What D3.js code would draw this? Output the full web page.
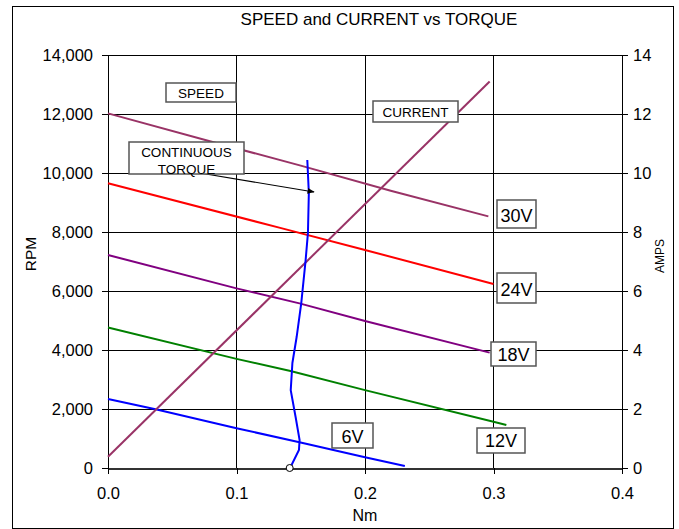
<!DOCTYPE html>
<html>
<head>
<meta charset="utf-8">
<script src="https://cdn.jsdelivr.net/npm/d3@7"></script>
<style>
  body { margin: 0; background: #fff; }
  svg { display: block; font-family: "Liberation Sans", Arial, sans-serif; }
  .box { fill: #fff; stroke: #555; stroke-width: 1.5; }
</style>
</head>
<body>
<svg></svg>
<script>
// speed curves: [torque Nm, RPM]
var speed30 = [[0, 12020], [0.08, 11070], [0.15, 10250], [0.22, 9400], [0.296, 8530]];
var speed24 = [[0, 9650], [0.134, 8140], [0.2, 7390], [0.30, 6240]];
var speed18 = [[0, 7220], [0.10, 6090], [0.149, 5580], [0.2, 4980], [0.297, 3910]];
var speed12 = [[0, 4760], [0.10, 3700], [0.142, 3290], [0.2, 2640], [0.30, 1570], [0.31, 1460]];
var speed6 = [[0, 2340], [0.037, 1990], [0.10, 1350], [0.149, 870], [0.2, 365], [0.231, 70]];

// current: [torque Nm, AMPS]
var current = [[0, 0.38], [0.297, 13.1]];

// continuous torque boundary: [torque Nm, RPM]
var contTorque = [[0.1414, 0], [0.1421, 35], [0.1486, 610], [0.1491, 950], [0.1460, 1730],
  [0.1422, 2640], [0.1435, 3560], [0.1468, 4440], [0.1504, 5590], [0.1538, 7050],
  [0.1556, 7970], [0.1563, 9320], [0.1551, 10440]];

var rpmTicks = [0, 2000, 4000, 6000, 8000, 10000, 12000, 14000];
var ampTicks = [0, 2, 4, 6, 8, 10, 12, 14];
var nmTicks = [0, 0.1, 0.2, 0.3, 0.4];

var speedSeries = [
  { name: "30V", data: speed30, color: "#993366" },
  { name: "24V", data: speed24, color: "#ff0000" },
  { name: "18V", data: speed18, color: "#800080" },
  { name: "12V", data: speed12, color: "#008000" },
  { name: "6V", data: speed6, color: "#0000ff" }
];

var width = 679, height = 529;
var svg = d3.select("svg").attr("width", width).attr("height", height);

var x = d3.scaleLinear().domain([0, 0.4]).range([108, 622]);
var y = d3.scaleLinear().domain([0, 14000]).range([468, 55]);
var yA = d3.scaleLinear().domain([0, 14]).range([468, 55]);

// outer chart border
svg.append("rect")
  .attr("x", 12.5).attr("y", 6.5)
  .attr("width", 661).attr("height", 522)
  .attr("fill", "none").attr("stroke", "#000");

// title
svg.append("text")
  .attr("x", 379).attr("y", 25)
  .attr("text-anchor", "middle")
  .style("font-size", "17px")
  .text("SPEED and CURRENT vs TORQUE");

// grid
var grid = svg.append("g").attr("shape-rendering", "crispEdges").attr("stroke", "#000");
grid.selectAll(".h").data(rpmTicks).enter().append("line")
  .attr("x1", x(0)).attr("x2", x(0.4))
  .attr("y1", function(d) { return y(d); })
  .attr("y2", function(d) { return y(d); });
grid.selectAll(".v").data([0.1, 0.2, 0.3]).enter().append("line")
  .attr("y1", y(0)).attr("y2", y(14000))
  .attr("x1", function(d) { return x(d); })
  .attr("x2", function(d) { return x(d); });

// axes
var axLeft = svg.append("g")
  .attr("transform", "translate(" + x(0) + ",0)")
  .call(d3.axisLeft(y).tickValues(rpmTicks).tickFormat(d3.format(",")).tickSizeOuter(0).tickPadding(9));
var axRight = svg.append("g")
  .attr("transform", "translate(" + x(0.4) + ",0)")
  .call(d3.axisRight(yA).tickValues(ampTicks).tickSizeOuter(0).tickPadding(5));
var axBottom = svg.append("g")
  .attr("transform", "translate(0," + y(0) + ")")
  .call(d3.axisBottom(x).tickValues(nmTicks).tickFormat(d3.format(".1f")).tickSizeOuter(0).tickPadding(13));
axBottom.select(".domain").attr("stroke-width", 2).attr("stroke", "#333");

[axLeft, axRight, axBottom].forEach(function(a) {
  a.selectAll("text").style("font-size", "16.5px").attr("fill", "#000")
    .style("font-family", "'Liberation Sans', Arial, sans-serif");
  a.selectAll("line, path").attr("shape-rendering", "crispEdges");
});

// axis titles
svg.append("text")
  .attr("transform", "translate(36,254) rotate(-90)")
  .attr("text-anchor", "middle")
  .style("font-size", "15.5px")
  .text("RPM");
svg.append("text")
  .attr("transform", "translate(664,256) rotate(-90)")
  .attr("text-anchor", "middle")
  .style("font-size", "12px")
  .text("AMPS");
svg.append("text")
  .attr("x", 365).attr("y", 521)
  .attr("text-anchor", "middle")
  .style("font-size", "16px")
  .text("Nm");

// lines
var lineRpm = d3.line().x(function(d) { return x(d[0]); }).y(function(d) { return y(d[1]); });
var lineAmp = d3.line().x(function(d) { return x(d[0]); }).y(function(d) { return yA(d[1]); });

svg.append("g").selectAll("path")
  .data(speedSeries)
  .enter().append("path")
  .attr("fill", "none")
  .attr("stroke", function(d) { return d.color; })
  .attr("stroke-width", 2)
  .attr("d", function(d) { return lineRpm(d.data); });

svg.append("path")
  .attr("fill", "none")
  .attr("stroke", "#993366")
  .attr("stroke-width", 2)
  .attr("d", lineAmp(current));

svg.append("path")
  .attr("fill", "none")
  .attr("stroke", "#0000ff")
  .attr("stroke-width", 2)
  .attr("d", lineRpm(contTorque));

svg.append("circle")
  .attr("cx", x(contTorque[0][0])).attr("cy", y(contTorque[0][1]))
  .attr("r", 3.5)
  .attr("fill", "#fff").attr("stroke", "#000");

// arrow
svg.append("defs").append("marker")
  .attr("id", "arrow")
  .attr("viewBox", "0 0 10 10")
  .attr("refX", 9).attr("refY", 5)
  .attr("markerWidth", 6).attr("markerHeight", 6)
  .attr("orient", "auto")
  .append("path").attr("d", "M0,1L10,5L0,9Z").attr("fill", "#000");

svg.append("line")
  .attr("x1", 200).attr("y1", 173)
  .attr("x2", 314).attr("y2", 192)
  .attr("stroke", "#000").attr("stroke-width", 1.2)
  .attr("marker-end", "url(#arrow)");

// text boxes
var boxes = [
  { lines: ["SPEED"], x: 166, y: 83, w: 70, h: 19, size: 13.5, base: [14.5] },
  { lines: ["CURRENT"], x: 373, y: 101, w: 85, h: 21, size: 13.5, base: [15.5] },
  { lines: ["CONTINUOUS", "TORQUE"], x: 129, y: 142, w: 115, h: 32, size: 13.5, base: [15, 32] },
  { lines: ["30V"], x: 497, y: 200, w: 39, h: 28, size: 18, base: [21.5] },
  { lines: ["24V"], x: 497, y: 273, w: 39, h: 30, size: 18, base: [22.5] },
  { lines: ["18V"], x: 491, y: 342, w: 45, h: 24, size: 18, base: [19] },
  { lines: ["12V"], x: 477, y: 428, w: 48, h: 25, size: 18, base: [19] },
  { lines: ["6V"], x: 332, y: 423, w: 41, h: 25, size: 18, base: [19.5] }
];

var box = svg.append("g").selectAll("g")
  .data(boxes)
  .enter().append("g")
  .attr("transform", function(d) { return "translate(" + d.x + "," + d.y + ")"; });

box.append("rect")
  .attr("class", "box")
  .attr("width", function(d) { return d.w; })
  .attr("height", function(d) { return d.h; });

box.each(function(d) {
  var g = d3.select(this);
  d.lines.forEach(function(t, i) {
    g.append("text")
      .attr("x", d.w / 2).attr("y", d.base[i])
      .attr("text-anchor", "middle")
      .style("font-size", d.size + "px")
      .text(t);
  });
});
</script>
</body>
</html>
